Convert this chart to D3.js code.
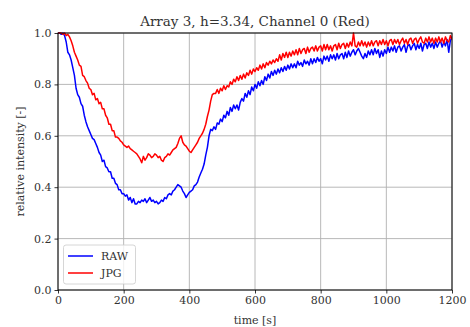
<!DOCTYPE html>
<html>
<head>
<meta charset="utf-8">
<script src="https://cdn.jsdelivr.net/npm/d3@7"></script>
<style>
  html, body { margin: 0; padding: 0; background: #fff; }
  svg { display: block; }
  text { font-family: "DejaVu Serif", serif; fill: #333; }
</style>
</head>
<body>
<svg id="chart" width="470" height="327"></svg>
<script>
// Relative intensity sampled every 5 s from 0 to 1200 s (one row = 60 s).
const sampleStep = 5;

const rawSeries = [
  1.00, 1.00, 0.995, 1.00, 0.99, 0.965, 0.925, 0.915, 0.895, 0.865, 0.835, 0.785,
  0.76, 0.75, 0.725, 0.715, 0.68, 0.655, 0.635, 0.62, 0.605, 0.59, 0.585, 0.57,
  0.555, 0.535, 0.525, 0.50, 0.505, 0.48, 0.475, 0.46, 0.46, 0.435, 0.435, 0.415,
  0.41, 0.39, 0.39, 0.375, 0.375, 0.365, 0.37, 0.35, 0.36, 0.34, 0.355, 0.335,
  0.335, 0.345, 0.34, 0.35, 0.345, 0.355, 0.34, 0.35, 0.36, 0.345, 0.35, 0.34,
  0.345, 0.335, 0.34, 0.35, 0.345, 0.36, 0.355, 0.37, 0.375, 0.37, 0.385, 0.39,
  0.40, 0.41, 0.405, 0.40, 0.385, 0.375, 0.36, 0.37, 0.38, 0.385, 0.39, 0.405,
  0.41, 0.42, 0.44, 0.455, 0.47, 0.49, 0.525, 0.555, 0.60, 0.625, 0.62, 0.635,
  0.625, 0.65, 0.645, 0.665, 0.655, 0.68, 0.67, 0.695, 0.68, 0.71, 0.695, 0.72,
  0.705, 0.72, 0.70, 0.73, 0.745, 0.735, 0.765, 0.75, 0.775, 0.76, 0.79, 0.775,
  0.80, 0.785, 0.81, 0.795, 0.815, 0.80, 0.83, 0.815, 0.84, 0.825, 0.85, 0.835,
  0.855, 0.84, 0.86, 0.845, 0.865, 0.85, 0.87, 0.855, 0.875, 0.86, 0.88, 0.865,
  0.88, 0.865, 0.89, 0.875, 0.885, 0.87, 0.895, 0.88, 0.89, 0.875, 0.90, 0.88,
  0.90, 0.885, 0.905, 0.89, 0.90, 0.88, 0.91, 0.895, 0.91, 0.89, 0.915, 0.90,
  0.915, 0.895, 0.92, 0.90, 0.915, 0.92, 0.90, 0.925, 0.905, 0.93, 0.91, 0.925,
  0.935, 0.915, 0.93, 0.94, 0.925, 0.91, 0.90, 0.92, 0.905, 0.93, 0.915, 0.935,
  0.915, 0.94, 0.92, 0.935, 0.905, 0.93, 0.91, 0.935, 0.92, 0.945, 0.925, 0.945,
  0.93, 0.95, 0.925, 0.945, 0.95, 0.93, 0.945, 0.955, 0.925, 0.95, 0.955, 0.935,
  0.95, 0.96, 0.935, 0.955, 0.94, 0.96, 0.93, 0.955, 0.96, 0.94, 0.965, 0.945,
  0.96, 0.94, 0.965, 0.945, 0.96, 0.97, 0.945, 0.965, 0.95, 0.975, 0.925, 0.97,
  0.985
];

const jpgSeries = [
  1.00, 1.00, 1.00, 0.995, 1.00, 0.99, 0.995, 0.985, 0.97, 0.95, 0.925, 0.91,
  0.895, 0.875, 0.87, 0.835, 0.83, 0.815, 0.805, 0.785, 0.78, 0.76, 0.765, 0.74,
  0.745, 0.725, 0.73, 0.705, 0.705, 0.68, 0.67, 0.645, 0.645, 0.62, 0.62, 0.595,
  0.595, 0.59, 0.58, 0.575, 0.565, 0.56, 0.555, 0.56, 0.55, 0.545, 0.54, 0.535,
  0.53, 0.52, 0.51, 0.495, 0.52, 0.505, 0.515, 0.53, 0.525, 0.515, 0.52, 0.53,
  0.525, 0.515, 0.52, 0.505, 0.50, 0.515, 0.52, 0.53, 0.525, 0.535, 0.545, 0.55,
  0.555, 0.57, 0.59, 0.60, 0.575, 0.565, 0.56, 0.55, 0.54, 0.535, 0.545, 0.555,
  0.565, 0.575, 0.59, 0.60, 0.61, 0.625, 0.645, 0.675, 0.70, 0.735, 0.76, 0.765,
  0.765, 0.78, 0.765, 0.785, 0.775, 0.795, 0.78, 0.795, 0.79, 0.81, 0.80, 0.82,
  0.81, 0.83, 0.815, 0.835, 0.82, 0.84, 0.825, 0.845, 0.835, 0.855, 0.84, 0.86,
  0.85, 0.865, 0.855, 0.875, 0.86, 0.88, 0.865, 0.885, 0.875, 0.89, 0.88, 0.895,
  0.885, 0.90, 0.89, 0.915, 0.895, 0.92, 0.905, 0.925, 0.905, 0.925, 0.91, 0.93,
  0.915, 0.935, 0.915, 0.94, 0.92, 0.935, 0.94, 0.92, 0.945, 0.925, 0.94, 0.945,
  0.93, 0.95, 0.93, 0.945, 0.95, 0.93, 0.955, 0.935, 0.955, 0.935, 0.95, 0.93,
  0.95, 0.955, 0.935, 0.96, 0.94, 0.955, 0.96, 0.94, 0.96, 0.945, 0.965, 0.95,
  1.00, 0.95, 0.945, 0.965, 0.95, 0.97, 0.95, 0.965, 0.945, 0.965, 0.95, 0.97,
  0.95, 0.965, 0.97, 0.95, 0.97, 0.955, 0.975, 0.955, 0.97, 0.95, 0.97, 0.975,
  0.955, 0.975, 0.96, 0.975, 0.955, 0.97, 0.98, 0.96, 0.975, 0.955, 0.975, 0.98,
  0.96, 0.975, 0.98, 0.96, 0.975, 0.985, 0.965, 0.96, 0.98, 0.965, 0.985, 0.965,
  0.98, 0.96, 0.98, 0.965, 0.985, 0.965, 0.98, 0.96, 0.985, 0.97, 0.965, 0.99,
  0.975
];

const xTicks = [0, 200, 400, 600, 800, 1000, 1200];
const yTicks = [0.0, 0.2, 0.4, 0.6, 0.8, 1.0];

const seriesNames = ["RAW", "JPG"];
const seriesColors = ["#0000ff", "#ff0000"];

const titleText = "Array 3, h=3.34, Channel 0 (Red)";
const xLabel = "time [s]";
const yLabel = "relative intensity [-]";

// Layout
const svg = d3.select("#chart");
const plot = { left: 58, right: 452, top: 33, bottom: 290 };

const x = d3.scaleLinear().domain([0, 1200]).range([plot.left, plot.right]);
const y = d3.scaleLinear().domain([0, 1]).range([plot.bottom, plot.top]);

// Grid lines
const grid = svg.append("g");
grid.selectAll("line.vx").data(xTicks).join("line")
  .attr("x1", d => x(d)).attr("x2", d => x(d))
  .attr("y1", plot.top).attr("y2", plot.bottom)
  .attr("stroke", "#b0b0b0").attr("stroke-width", 0.9);
grid.selectAll("line.hy").data(yTicks).join("line")
  .attr("x1", plot.left).attr("x2", plot.right)
  .attr("y1", d => y(d)).attr("y2", d => y(d))
  .attr("stroke", "#b0b0b0").attr("stroke-width", 0.9);

// Curves
const clipId = "plot-clip";
svg.append("clipPath").attr("id", clipId).append("rect")
  .attr("x", plot.left).attr("y", plot.top - 1)
  .attr("width", plot.right - plot.left).attr("height", plot.bottom - plot.top + 1);

const line = d3.line()
  .x((d, i) => x(i * sampleStep))
  .y(d => y(d));

const curves = svg.append("g").attr("clip-path", `url(#${clipId})`);
[rawSeries, jpgSeries].forEach((s, k) => {
  curves.append("path")
    .attr("d", line(s))
    .attr("fill", "none")
    .attr("stroke", seriesColors[k])
    .attr("stroke-width", 1.5)
    .attr("stroke-linejoin", "round");
});

// Axes
const xAxis = d3.axisBottom(x).tickValues(xTicks).tickFormat(d3.format("d"))
  .tickSizeInner(3.5).tickSizeOuter(0).tickPadding(3);
const yAxis = d3.axisLeft(y).tickValues(yTicks).tickFormat(d3.format(".1f"))
  .tickSizeInner(3.5).tickSizeOuter(0).tickPadding(3);

const gx = svg.append("g").attr("transform", `translate(0,${plot.bottom})`).call(xAxis);
const gy = svg.append("g").attr("transform", `translate(${plot.left},0)`).call(yAxis);
[gx, gy].forEach(g => {
  g.select(".domain").remove();
  g.selectAll(".tick line").attr("stroke", "#000").attr("stroke-width", 0.8);
  g.selectAll(".tick text")
    .attr("font-family", "DejaVu Serif, serif")
    .attr("font-size", 11)
    .attr("fill", "#333");
});

// Frame
svg.append("rect")
  .attr("x", plot.left).attr("y", plot.top)
  .attr("width", plot.right - plot.left).attr("height", plot.bottom - plot.top)
  .attr("fill", "none").attr("stroke", "#000").attr("stroke-width", 1);

// Titles
svg.append("text")
  .attr("x", (plot.left + plot.right) / 2).attr("y", 26)
  .attr("text-anchor", "middle").attr("font-size", 13.5)
  .text(titleText);
svg.append("text")
  .attr("x", (plot.left + plot.right) / 2).attr("y", 324)
  .attr("text-anchor", "middle").attr("font-size", 11)
  .text(xLabel);
svg.append("text")
  .attr("transform", `translate(24,${(plot.top + plot.bottom) / 2}) rotate(-90)`)
  .attr("text-anchor", "middle").attr("font-size", 11)
  .text(yLabel);

// Legend
const legend = svg.append("g");
legend.append("rect")
  .attr("x", 63.5).attr("y", 245).attr("width", 72).attr("height", 39)
  .attr("rx", 2.5).attr("fill", "#fff").attr("fill-opacity", 0.8)
  .attr("stroke", "#cccccc").attr("stroke-width", 0.8);
seriesNames.forEach((name, k) => {
  const ly = 256 + k * 17;
  legend.append("line")
    .attr("x1", 68).attr("x2", 93).attr("y1", ly).attr("y2", ly)
    .attr("stroke", seriesColors[k]).attr("stroke-width", 1.5);
  legend.append("text")
    .attr("x", 101).attr("y", ly + 4).attr("font-size", 11)
    .text(name);
});
</script>
</body>
</html>
